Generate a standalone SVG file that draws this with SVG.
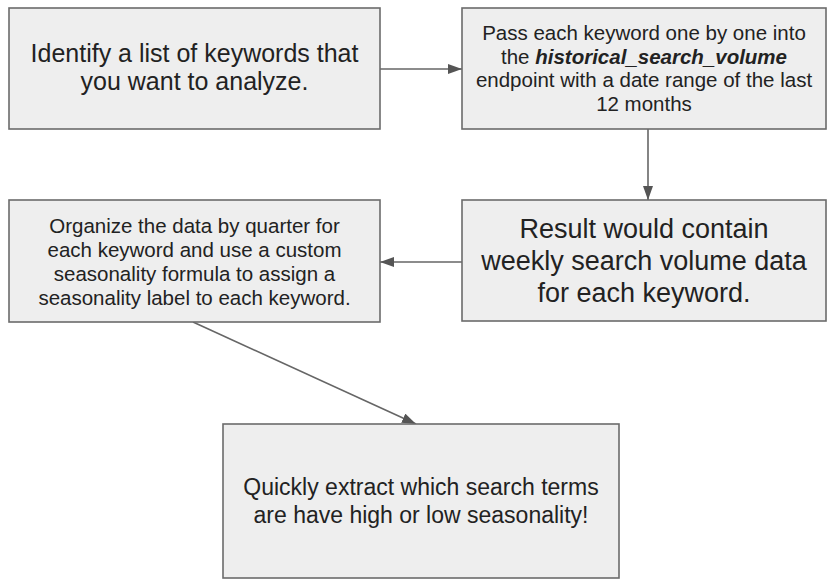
<svg xmlns="http://www.w3.org/2000/svg" width="828" height="579" viewBox="0 0 828 579">
<style>
.box{fill:#eeeeee;stroke:#6b6b6b;stroke-width:1.6}
.t{font-family:"Liberation Sans",Arial,sans-serif;fill:#222222;text-anchor:middle}
.c{fill:none;stroke:#666666;stroke-width:1.6}
</style>
<defs>
<marker id="ah" markerWidth="14" markerHeight="10" refX="14" refY="5" orient="auto" markerUnits="userSpaceOnUse">
<path d="M0,0 L14,5 L0,10 Z" fill="#555555"/>
</marker>
</defs>
<rect width="828" height="579" fill="#ffffff"/>
<g id="connectors">
<line class="c" x1="380" y1="69" x2="462" y2="69" marker-end="url(#ah)"/>
<line class="c" x1="648" y1="129" x2="648" y2="200" marker-end="url(#ah)"/>
<line class="c" x1="462" y1="262" x2="380" y2="262" marker-end="url(#ah)"/>
<line class="c" x1="193" y1="322" x2="416" y2="424" marker-end="url(#ah)"/>
</g>
<g id="n1">
<rect class="box" x="9" y="8" width="371" height="121"/>
<text class="t" font-size="25" x="194.5" y="62">Identify a list of keywords that</text>
<text class="t" font-size="25" x="194.5" y="90">you want to analyze.</text>
</g>
<g id="n2">
<rect class="box" x="462" y="8" width="364" height="121"/>
<text class="t" font-size="20.5" x="644" y="40">Pass each keyword one by one into</text>
<text class="t" font-size="20.5" x="644" y="63.5">the <tspan font-weight="bold" font-style="italic">historical_search_volume</tspan></text>
<text class="t" font-size="20.5" x="644" y="87">endpoint with a date range of the last</text>
<text class="t" font-size="20.5" x="644" y="110.5">12 months</text>
</g>
<g id="n3">
<rect class="box" x="462" y="200" width="364" height="121"/>
<text class="t" font-size="27" x="644" y="238">Result would contain</text>
<text class="t" font-size="27" x="644" y="270">weekly search volume data</text>
<text class="t" font-size="27" x="644" y="302">for each keyword.</text>
</g>
<g id="n4">
<rect class="box" x="9" y="200" width="371" height="122"/>
<text class="t" font-size="20.5" x="194.5" y="233">Organize the data by quarter for</text>
<text class="t" font-size="20.5" x="194.5" y="257">each keyword and use a custom</text>
<text class="t" font-size="20.5" x="194.5" y="281">seasonality formula to assign a</text>
<text class="t" font-size="20.5" x="194.5" y="305">seasonality label to each keyword.</text>
</g>
<g id="n5">
<rect class="box" x="223" y="424" width="396" height="154"/>
<text class="t" font-size="23" x="421" y="495">Quickly extract which search terms</text>
<text class="t" font-size="23" x="421" y="523">are have high or low seasonality!</text>
</g>
</svg>
